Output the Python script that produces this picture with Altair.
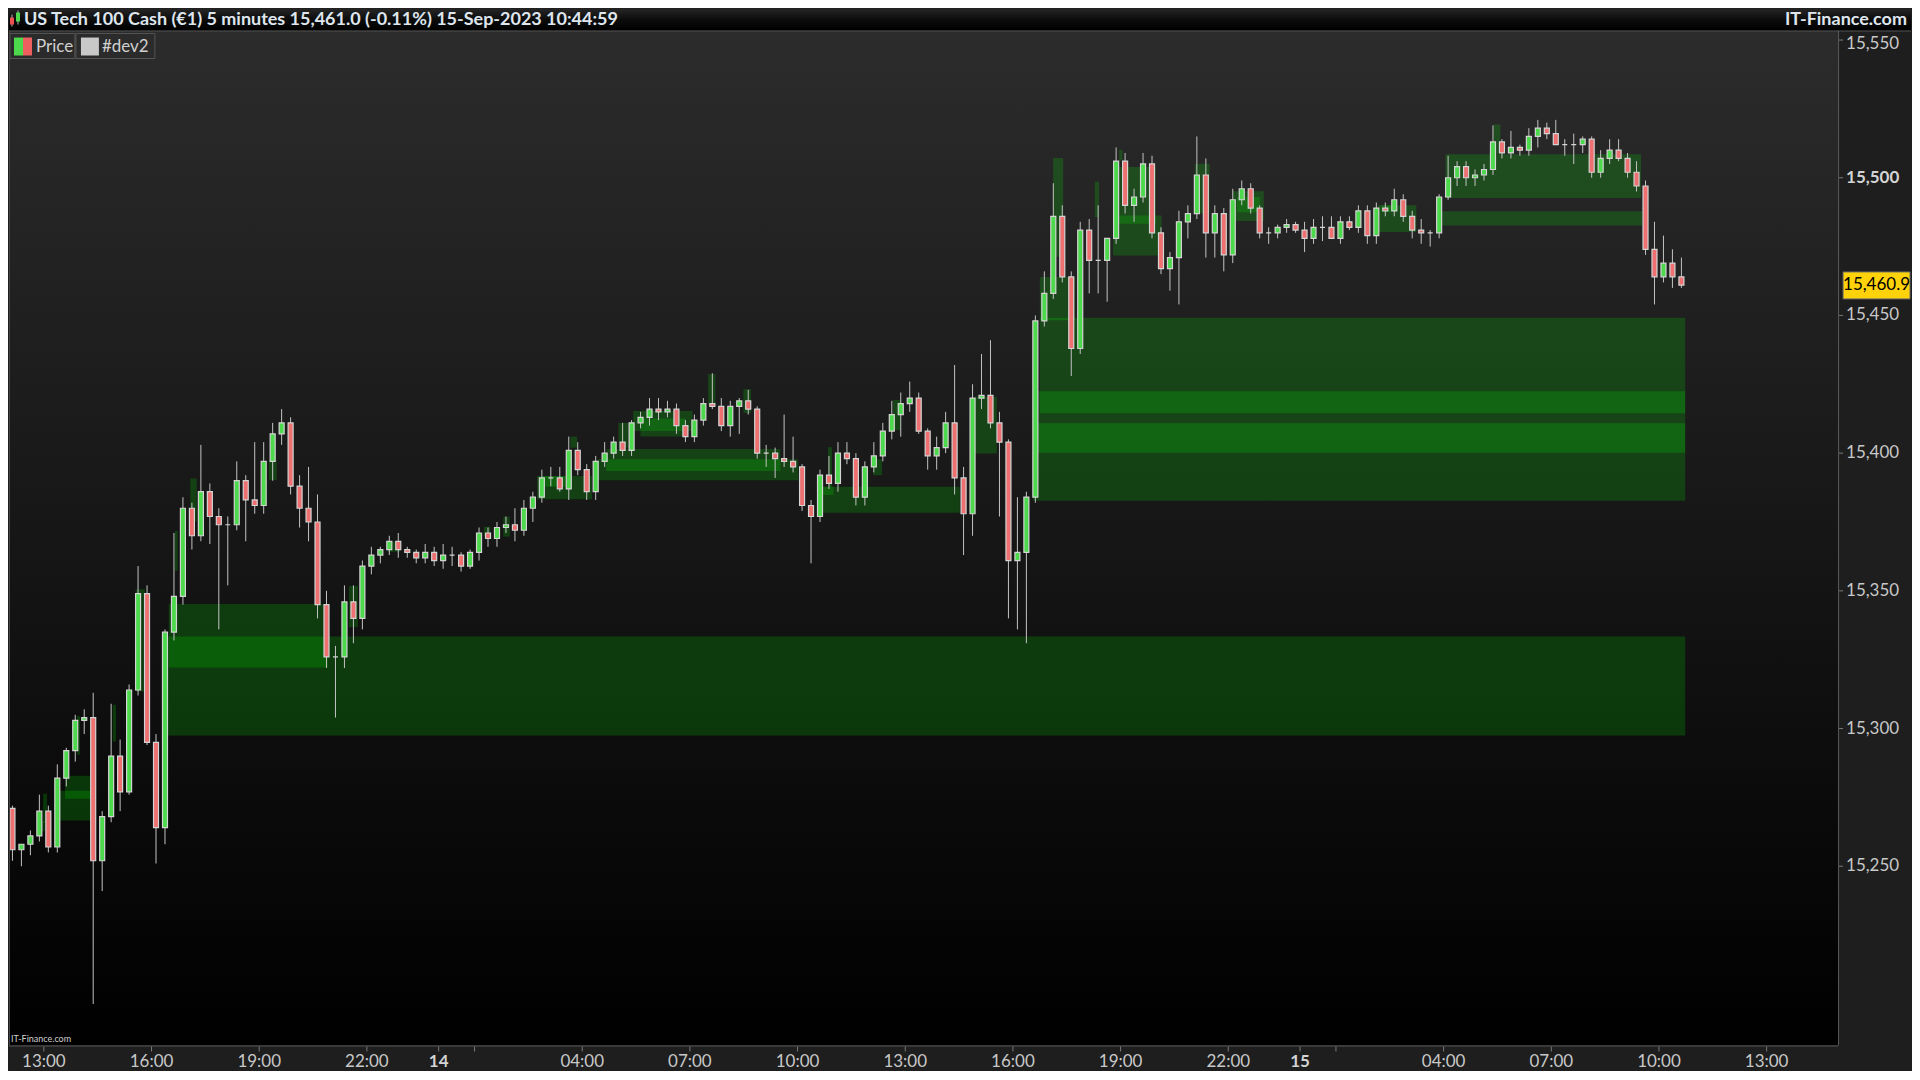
import altair as alt
import pandas as pd

# ---------------- candle data: 15-minute bars, 13-Sep 11:45 -> 15-Sep 10:30 ----------------
first_open = 15275
start_hour = 11.75          # hours since 13-Sep-2023 00:00
step = 0.25                 # 15 minutes

high_13 = [15284,
           15272, 15258, 15263, 15276,
           15272, 15287, 15293, 15305,
           15307, 15313, 15270, 15309,
           15296, 15316, 15359, 15352,
           15298, 15336, 15371, 15384,
           15382, 15403, 15389, 15380,
           15377, 15397, 15392, 15404,
           15404, 15411, 15416, 15413,
           15392, 15395, 15385, 15350,
           15330, 15352, 15352, 15361,
           15366, 15366, 15370, 15371,
           15366, 15365, 15367, 15366]
low_13 = [15270,
          15252, 15250, 15254, 15259,
          15255, 15255, 15279, 15288,
          15298, 15200, 15241, 15266,
          15270, 15276, 15312, 15294,
          15251, 15258, 15332, 15345,
          15365, 15368, 15367, 15336,
          15352, 15372, 15368, 15378,
          15378, 15390, 15403, 15385,
          15373, 15368, 15340, 15322,
          15304, 15322, 15331, 15336,
          15356, 15360, 15363, 15362,
          15362, 15360, 15360, 15359]
close_13 = [15271,
            15256, 15258, 15261, 15270,
            15257, 15282, 15292, 15303,
            15304, 15252, 15268, 15290,
            15277, 15314, 15349, 15295,
            15264, 15335, 15348, 15380,
            15370, 15386, 15377, 15374,
            15374, 15390, 15383, 15381,
            15397, 15407, 15411, 15388,
            15380, 15375, 15345, 15326,
            15326, 15346, 15340, 15359,
            15363, 15365, 15368, 15365,
            15364, 15362, 15364, 15361]

high_14 = [15367, 15366, 15364, 15365, 15373, 15373, 15375, 15377,
           15380, 15383, 15386, 15394, 15395, 15395, 15406, 15404,
           15396, 15399, 15404, 15406, 15411, 15412, 15415, 15420,
           15420, 15419, 15418, 15412, 15414, 15420, 15429, 15420,
           15419, 15420, 15423, 15417, 15403, 15402, 15414, 15406,
           15396, 15383, 15394, 15399, 15404, 15404, 15400, 15397,
           15404, 15411, 15419, 15422, 15426, 15422, 15409, 15406,
           15415, 15432, 15395, 15425, 15436, 15441, 15415, 15405,
           15384, 15386, 15450, 15466, 15498, 15490, 15466, 15484,
           15485, 15490, 15478, 15511, 15509, 15496, 15509, 15508,
           15482, 15473, 15488, 15490, 15515, 15507, 15490, 15489,
           15496, 15499, 15498, 15490, 15482, 15483, 15485, 15484]
low_14 = [15358, 15359, 15357, 15358, 15361, 15366, 15366, 15371,
          15368, 15370, 15375, 15382, 15388, 15386, 15383, 15392,
          15383, 15383, 15395, 15398, 15399, 15399, 15409, 15410,
          15412, 15413, 15407, 15404, 15404, 15410, 15416, 15408,
          15406, 15407, 15414, 15398, 15395, 15391, 15395, 15393,
          15379, 15360, 15375, 15387, 15386, 15396, 15381, 15381,
          15393, 15397, 15405, 15406, 15415, 15407, 15394, 15394,
          15400, 15385, 15363, 15370, 15416, 15409, 15377, 15340,
          15336, 15331, 15382, 15446, 15456, 15462, 15428, 15436,
          15458, 15458, 15455, 15476, 15487, 15484, 15491, 15478,
          15465, 15459, 15454, 15478, 15485, 15471, 15471, 15466,
          15469, 15490, 15487, 15478, 15476, 15478, 15480, 15480]
close_14 = [15363, 15363, 15359, 15364, 15371, 15369, 15373, 15374,
            15372, 15380, 15384, 15391, 15391, 15387, 15401, 15394,
            15386, 15397, 15400, 15404, 15401, 15411, 15413, 15416,
            15415, 15416, 15410, 15406, 15412, 15418, 15417, 15410,
            15417, 15419, 15416, 15400, 15400, 15398, 15397, 15395,
            15381, 15377, 15392, 15389, 15400, 15398, 15384, 15395,
            15399, 15408, 15414, 15418, 15420, 15408, 15399, 15402,
            15411, 15391, 15378, 15420, 15421, 15411, 15404, 15361,
            15364, 15384, 15448, 15458, 15486, 15464, 15438, 15481,
            15470, 15470, 15478, 15506, 15490, 15493, 15505, 15480,
            15467, 15471, 15484, 15487, 15501, 15480, 15487, 15472,
            15492, 15496, 15489, 15480, 15480, 15482, 15483, 15481]

high_15 = [15484, 15485, 15486, 15486, 15486, 15486, 15490, 15490,
           15491, 15491, 15496, 15494, 15488, 15485, 15481, 15494,
           15508, 15506, 15506, 15503, 15505, 15519, 15514, 15517,
           15512, 15518, 15521, 15520, 15521, 15514, 15516, 15515,
           15515, 15510, 15514, 15514, 15509, 15506, 15499, 15484,
           15479, 15474, 15471]
low_15 = [15473, 15476, 15477, 15478, 15476, 15481, 15480, 15476,
          15476, 15486, 15486, 15484, 15478, 15476, 15475, 15478,
          15492, 15497, 15497, 15497, 15499, 15501, 15507, 15507,
          15508, 15508, 15511, 15514, 15512, 15508, 15505, 15509,
          15500, 15500, 15505, 15506, 15500, 15495, 15472, 15454,
          15462, 15460, 15460]
close_15 = [15478, 15482, 15482, 15478, 15484, 15482, 15488, 15479,
            15489, 15488, 15492, 15486, 15481, 15480, 15480, 15493,
            15500, 15504, 15500, 15501, 15503, 15513, 15509, 15511,
            15510, 15515, 15518, 15516, 15512, 15512, 15512, 15514,
            15502, 15507, 15510, 15507, 15502, 15497, 15474, 15464,
            15469, 15464, 15461]

# ---------------- zones (#dev2): start/end in hours since 13-Sep 00:00, price low/high ----------------
zone_start = [13.59, 13.42, 12.81, 12.98, 13.92, 14.92, 15.56, 16.48, 16.40, 16.65,
              17.08, 19.27, 21.50, 22.57, 25.26, 25.80, 26.74, 26.88, 27.67, 29.01,
              28.67, 28.42, 29.42, 29.62, 31.51, 32.49, 34.60, 34.65, 34.85, 36.10,
              36.66, 38.94, 40.75, 40.67, 40.56, 41.12, 40.75, 42.28, 42.96, 42.93,
              42.79, 45.07, 46.13, 46.24, 50.17, 50.26, 52.05, 51.79, 53.39]
zone_end = [14.45, 14.45, 13.03, 13.09, 14.01, 15.01, 15.81, 20.91, 58.73, 16.73,
            17.26, 19.49, 21.75, 22.92, 25.44, 25.98, 28.27, 27.53, 27.86, 29.28,
            33.52, 34.02, 31.07, 30.87, 31.71, 32.70, 38.52, 35.00, 34.96, 36.35,
            36.88, 39.55, 58.73, 58.73, 58.73, 41.40, 41.73, 42.40, 43.05, 43.98,
            44.14, 45.48, 46.99, 46.88, 51.24, 50.58, 57.50, 57.53, 53.58]
zone_low = [15274.5, 15266.6, 15262.7, 15265.8, 15290.5, 15295.3, 15313.5, 15322.2, 15297.5, 15357.3,
            15375.1, 15390.2, 15336.8, 15364.2, 15369.7, 15369.7, 15383.3, 15387.8, 15402.0, 15402.0,
            15393.5, 15390.2, 15408.0, 15406.0, 15417.4, 15414.6, 15378.4, 15384.8, 15387.8, 15392.0,
            15408.4, 15399.9, 15414.5, 15400.1, 15382.7, 15471.3, 15448.3, 15485.7, 15506.3, 15483.3,
            15471.8, 15487.0, 15484.3, 15487.5, 15480.3, 15487.6, 15492.6, 15482.7, 15508.7]
zone_high = [15282.9, 15277.4, 15266.3, 15276.3, 15304.6, 15308.6, 15350.6, 15345.2, 15333.4, 15371.7,
             15390.8, 15397.5, 15351.8, 15367.9, 15373.3, 15376.9, 15391.7, 15391.7, 15406.0, 15411.0,
             15401.5, 15397.8, 15415.3, 15412.6, 15428.7, 15423.2, 15387.8, 15387.8, 15402.2, 15397.8,
             15419.3, 15420.5, 15449.2, 15422.5, 15410.9, 15507.2, 15464.0, 15498.5, 15510.2, 15503.9,
             15486.3, 15505.1, 15495.1, 15493.0, 15490.0, 15490.0, 15508.5, 15487.8, 15519.3]

# ---------------- axis / text content ----------------
y_ticks = [15250, 15300, 15350, 15400, 15450, 15500, 15550]
y_bold = [15500]
y_top = [15550]
x_ticks = [13, 16, 19, 22, 24, 25, 28, 31, 34, 37, 40, 43, 46, 48, 49, 52, 55, 58, 61]
x_labels = ["13:00", "16:00", "19:00", "22:00", "14", "", "04:00", "07:00", "10:00", "13:00",
            "16:00", "19:00", "22:00", "15", "", "04:00", "07:00", "10:00", "13:00"]
x_bold = ["14", "15"]
last_price = 15460.9
title_text = "US Tech 100 Cash (\u20ac1) 5 minutes 15,461.0 (-0.11%) 15-Sep-2023 10:44:59"
brand_text = "IT-Finance.com"

# ---------------- build tables ----------------
highs = high_13 + high_14 + high_15
lows = low_13 + low_14 + low_15
closes = close_13 + close_14 + close_15
rows = []
for i, c in enumerate(closes):
    o = first_open if i == 0 else closes[i - 1]
    rows.append({"tc": start_hour + i * step + step / 2, "open": o, "high": highs[i],
                 "low": lows[i], "close": c, "dir": "up" if c >= o else "down"})
cdf = pd.DataFrame(rows)
zdf = pd.DataFrame({"z0": zone_start, "z1": zone_end, "zlo": zone_low, "zhi": zone_high})
one = pd.DataFrame({"a": [0]})
ytk = pd.DataFrame({"v": y_ticks, "lab": [f"{v:,}" for v in y_ticks],
                    "kind": ["bold" if v in y_bold else ("top" if v in y_top else "norm")
                             for v in y_ticks]})
xtk = pd.DataFrame({"h": x_ticks, "lab": x_labels, "bold": [s in x_bold for s in x_labels]})

# ---------------- layout ----------------
W, H = 1831, 1016
TW = 1904
BOT = 1040
FONT = "Lato"
xsc = alt.Scale(domain=[12.029, 62.99], nice=False, zero=False, padding=0)
ysc = alt.Scale(domain=[15184.93, 15553.45], nice=False, zero=False, padding=0)

plot_grad = {"gradient": "linear", "x1": 0, "x2": 0, "y1": 0, "y2": 1,
             "stops": [{"offset": 0, "color": "#2c2c2c"}, {"offset": 1, "color": "#000000"}]}
title_grad = {"gradient": "linear", "x1": 0, "x2": 0, "y1": 0, "y2": 1,
              "stops": [{"offset": 0, "color": "#262626"}, {"offset": 0.5, "color": "#0c0c0c"},
                        {"offset": 1, "color": "#000000"}]}


def box(x0, x1, y0, y1, **kw):
    return alt.Chart(one).mark_rect(**kw).encode(
        x=alt.value(x0), x2=alt.value(x1), y=alt.value(y0), y2=alt.value(y1))


def label(txt, x, y, **kw):
    return alt.Chart(one).mark_text(**kw).encode(x=alt.value(x), y=alt.value(y), text=alt.value(txt))


def line(x0, x1, y0, y1, color):
    return alt.Chart(one).mark_rule(color=color, strokeWidth=1).encode(
        x=alt.value(x0), x2=alt.value(x1), y=alt.value(y0), y2=alt.value(y1))


bg = box(0, W, 0, H, color=plot_grad)
titlebar = box(0, TW, -22, 0, color=title_grad)
strips = box(0, TW, H, BOT, color="#1e1e1e")

zones = alt.Chart(zdf).mark_rect(color="#00ff00", opacity=0.18, clip=True).encode(
    x=alt.X("z0:Q", scale=xsc, axis=None), x2="z1:Q",
    y=alt.Y("zlo:Q", scale=ysc, axis=None), y2="zhi:Q")

wicks = alt.Chart(cdf).mark_rule(color="#c4c4c4", strokeWidth=1, clip=True).encode(
    x=alt.X("tc:Q", scale=xsc, axis=None),
    y=alt.Y("low:Q", scale=ysc, axis=None), y2="high:Q")

bodies = alt.Chart(cdf).mark_bar(size=5, stroke="#d4d4d4", strokeWidth=1.2, clip=True).encode(
    x=alt.X("tc:Q", scale=xsc, axis=None),
    y=alt.Y("open:Q", scale=ysc, axis=None), y2="close:Q",
    fill=alt.Fill("dir:N", scale=alt.Scale(domain=["up", "down"], range=["#4cd94c", "#ee7070"]),
                  legend=None))

# ---- price axis (right) drawn through the y scale ----
ytick_marks = alt.Chart(ytk).mark_rule(color="#7a7a7a", strokeWidth=1).encode(
    y=alt.Y("v:Q", scale=ysc, axis=None), x=alt.value(W + 1), x2=alt.value(W + 5))
ylab_norm = alt.Chart(ytk).transform_filter("datum.kind == 'norm'").mark_text(
    font=FONT, fontSize=17, color="#c8c8c8", align="left", baseline="middle").encode(
    y=alt.Y("v:Q", scale=ysc, axis=None), x=alt.value(W + 8), text="lab:N")
ylab_top = alt.Chart(ytk).transform_filter("datum.kind == 'top'").mark_text(
    font=FONT, fontSize=17, color="#c8c8c8", align="left", baseline="middle", dy=4).encode(
    y=alt.Y("v:Q", scale=ysc, axis=None), x=alt.value(W + 8), text="lab:N")
ylab_bold = alt.Chart(ytk).transform_filter("datum.kind == 'bold'").mark_text(
    font=FONT, fontSize=17, fontWeight="bold", color="#d4d4d4", align="left", baseline="middle").encode(
    y=alt.Y("v:Q", scale=ysc, axis=None), x=alt.value(W + 8), text="lab:N")

# ---- time axis (bottom) drawn through the x scale ----
xtick_marks = alt.Chart(xtk).mark_rule(color="#7a7a7a", strokeWidth=1).encode(
    x=alt.X("h:Q", scale=xsc, axis=None), y=alt.value(H + 1), y2=alt.value(H + 6))
xlab_norm = alt.Chart(xtk).transform_filter("!datum.bold").mark_text(
    font=FONT, fontSize=17, color="#c8c8c8", align="center", baseline="middle").encode(
    x=alt.X("h:Q", scale=xsc, axis=None), y=alt.value(H + 17), text="lab:N")
xlab_bold = alt.Chart(xtk).transform_filter("datum.bold").mark_text(
    font=FONT, fontSize=17, fontWeight="bold", color="#d4d4d4", align="center", baseline="middle").encode(
    x=alt.X("h:Q", scale=xsc, axis=None), y=alt.value(H + 17), text="lab:N")

# ---- last price tag ----
pdf = pd.DataFrame({"p": [last_price]})
tag = alt.Chart(pdf).transform_calculate(p0="datum.p - 4.9", p1="datum.p + 4.9").mark_rect(
    fill="#ffd20a", stroke="#6a6a6a", strokeWidth=1).encode(
    x=alt.value(W + 5), x2=alt.value(TW - 1),
    y=alt.Y("p0:Q", scale=ysc, axis=None), y2="p1:Q")
tag_text = alt.Chart(pdf).mark_text(font=FONT, fontSize=17, color="#000000", align="center",
                                    baseline="middle").encode(
    x=alt.value((W + 5 + TW - 1) / 2), y=alt.Y("p:Q", scale=ysc, axis=None),
    text=alt.Text("p:Q", format=",.1f"))

# ---- legend boxes ----
leg = [
    box(1, 66, 3, 28, fill="#2b2b2b", stroke="#555555", strokeWidth=1),
    box(5, 14, 7, 25, color="#4cd94c"),
    box(14, 23, 7, 25, color="#ee6060"),
    label("Price", 27, 16, font=FONT, fontSize=17, color="#d0d0d0", align="left", baseline="middle"),
    box(67, 146, 3, 28, fill="#2b2b2b", stroke="#555555", strokeWidth=1),
    box(72, 90, 7, 25, color="#c8c8c8"),
    label("#dev2", 93, 16, font=FONT, fontSize=17, color="#d0d0d0", align="left", baseline="middle"),
]

# ---- title bar content ----
icon = [
    line(3, 3, -16, -4, "#bbbbbb"),
    box(1, 5, -13, -6, color="#ee5050"),
    line(9, 9, -20, -6, "#bbbbbb"),
    box(7, 11, -18, -9, color="#4cd94c"),
]
title = label(title_text, 15, -11, font=FONT, fontSize=18, fontWeight="bold", color="#dfe6ee",
              align="left", baseline="middle")
brand = label(brand_text, TW - 4, -11, font=FONT, fontSize=18, fontWeight="bold", color="#dfe6ee",
              align="right", baseline="middle")
small_brand = label(brand_text, 2, H - 6, font=FONT, fontSize=9, color="#d0d0d0", align="left",
                    baseline="middle")

borders = [
    line(0, TW, 0.5, 0.5, "#505050"),
    line(W + 0.5, W + 0.5, 0, H, "#5a5a5a"),
    line(0, W, H + 0.5, H + 0.5, "#5a5a5a"),
    line(0.5, 0.5, 0, H, "#444444"),
]

chart = alt.layer(
    bg, titlebar, strips, zones, wicks, bodies,
    ytick_marks, ylab_norm, ylab_top, ylab_bold, xtick_marks, xlab_norm, xlab_bold,
    tag, tag_text, *leg, *icon, title, brand, small_brand, *borders
).properties(width=W, height=H, padding=0, background="#1e1e1e").configure_view(strokeWidth=0)

chart.save("out.html", embed_options={"renderer": "svg", "actions": False})
